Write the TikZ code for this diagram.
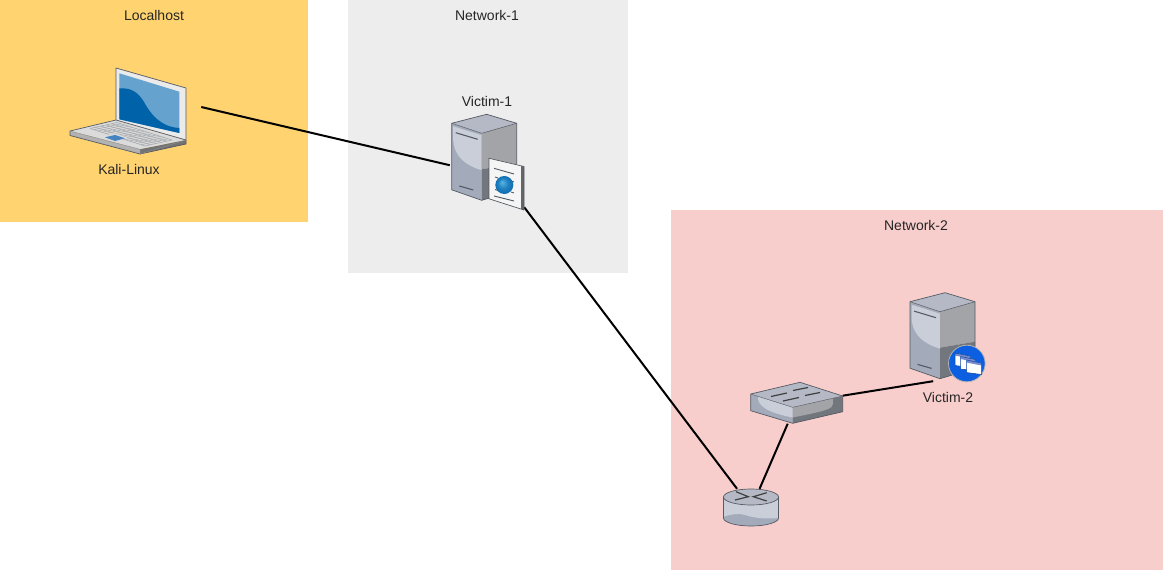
\documentclass[tikz,border=0pt]{standalone}
\usepackage{fontspec}
\setmainfont{Liberation Sans}
\definecolor{orangebg}{HTML}{FFD36F}
\definecolor{greybg}{HTML}{EDEDED}
\definecolor{pinkbg}{HTML}{F8CECC}
\definecolor{edgec}{HTML}{555A63}
\definecolor{facelight}{HTML}{C9CED9}
\definecolor{facemid}{HTML}{A3ABBA}
\definecolor{faceright}{HTML}{A2A4A7}
\definecolor{facedark}{HTML}{72777D}
\definecolor{topface}{HTML}{B4B9C5}
\definecolor{screenblue}{HTML}{65A2CE}
\definecolor{deepblue}{HTML}{0062A8}
\definecolor{bluecirc}{HTML}{0B5FE0}
\definecolor{ballin}{HTML}{57B6E6}
\definecolor{ballout}{HTML}{0A69AE}
\definecolor{keyc}{HTML}{A9ACB0}
\pgfdeclareradialshading{globe}{\pgfpoint{-0.25cm}{0.3cm}}{color(0cm)=(ballin); color(0.5cm)=(ballout!70!ballin); color(1cm)=(ballout)}
\tikzset{
  area/.style={draw=none,inner sep=0pt},
  label text/.style={inner sep=0pt,font=\fontsize{14}{16}\selectfont,text=black!85},
  hit/.style={draw=none,inner sep=0pt,rectangle},
  link/.style={draw=black,line width=2pt},
  outl/.style={draw=edgec,line width=0.7pt,line join=round},
}
% server body, origin at upper-left corner
\newcommand{\serverbody}[2]{%
\begin{scope}[shift={(#1,#2)}]
  \fill[facemid] (0,0) -- (30,10) -- (30,77) -- (0,66.5) -- cycle;
  \fill[facelight] (1.5,3) -- (30,12) -- (30,47) .. controls (14,42) and (3,34) .. (1.5,17) -- cycle;
  \fill[faceright] (30,10) -- (65,0) -- (65,40) -- (30,46) -- cycle;
  \fill[facedark] (30,46) -- (65,40) -- (65,66.5) -- (30,77) -- cycle;
  \fill[topface] (0,0) -- (35,-9) -- (65,0) -- (30,10) -- cycle;
  \draw[outl] (0,0) -- (35,-9) -- (65,0) -- (65,66.5) -- (30,77) -- (0,66.5) -- cycle;
  \draw[edgec,line width=0.5pt] (0,0) -- (30,10) -- (65,0);
  \draw[edgec,line width=1.1pt] (4,9.4) -- (26,16);
  \draw[edgec,line width=1.1pt] (7.6,62.7) -- (21.6,66.7);
\end{scope}}
\begin{document}
\begin{tikzpicture}[x=1pt,y=-1pt]
\useasboundingbox (0,0) rectangle (1163,570);
% areas
\fill[orangebg] (0,0) rectangle (308,222);
\fill[greybg] (347.5,0) rectangle (627.5,272.5);
\fill[pinkbg] (670.5,210) rectangle (1163,570);
\node[label text] (tlocal) at (154,15) {Localhost};
\node[label text] (tnet1) at (487,15) {Network-1};
\node[label text] (tnet2) at (916,225) {Network-2};
\node[label text] (tkali) at (129,169) {Kali-Linux};
\node[label text] (tv1) at (487,101) {Victim-1};
\node[label text] (tv2) at (948,397) {Victim-2};

% hit boxes used as connector ends
\node[hit,minimum width=131pt,minimum height=94pt] (laptop) at (135.5,107) {};
\node[hit,minimum width=74pt,minimum height=94pt] (victimone) at (487,160) {};
\node[hit,minimum width=56pt,minimum height=38pt] (router) at (751,508) {};
\node[hit,minimum width=92pt,minimum height=41pt] (switch) at (796.5,403) {};
\node[hit,minimum width=70pt,minimum height=88pt] (victimtwo) at (945,337) {};

% connectors
\draw[link] (laptop.east) -- (victimone.188);
\draw[link] (victimone.south east) -- (router.126.4);
\draw[link] (router.66.4) -- (switch.-113);
\draw[link] (switch.9.3) -- (victimtwo.-105);

% laptop
\fill[black!8] (116,68) -- (186,88) -- (186,140) -- (116,120) -- cycle;
\fill[screenblue] (119.3,73.3) -- (179.3,91.7) -- (179.3,133) -- (119.3,119.3) -- cycle;
\fill[deepblue] (119.3,88.3) .. controls (133,87.5) and (139,94) .. (144,102)
   .. controls (150,113) and (160,127) .. (179.3,128) -- (179.3,133) -- (119.3,119.3) -- cycle;
\draw[outl] (116,120) -- (116,68) -- (186,88) -- (186,140);
\fill[black!14] (70,131) -- (116,120) -- (186,140) -- (140,149.3) -- cycle;
\fill[black!55] (140,149.3) -- (186,140) -- (186,144) -- (140,154) -- cycle;
\fill[black!30] (70,131) -- (140,149.3) -- (140,154) -- (70,135.5) -- cycle;
\draw[outl] (70,131) -- (116,120) -- (186,140) -- (186,144) -- (140,154) -- (70,135.5) -- cycle;
\draw[black!45,line width=0.4pt] (140,149.3) -- (70,131) (140,149.3) -- (140,154) -- (186,140);
% keyboard A(90,128.5) B(117,122.5) C(172,140) D(145,146)
\begin{scope}[keyc,line width=0.6pt]
  \foreach \t in {0,0.2,...,1.01} {
    \draw ({90+27*\t},{128.5-6*\t}) -- ({145+27*\t},{146-6*\t});
  }
  \foreach \t in {0,0.0714,...,1.01} {
    \draw ({90+55*\t},{128.5+17.5*\t}) -- ({117+55*\t},{122.5+17.5*\t});
  }
\end{scope}
\fill[black!14] (103,135.8) -- (115,133.2) -- (127,137.6) -- (115,141.6) -- cycle;
\fill[cyan!60!blue!85!black!85] (105,137.3) -- (115,135) -- (125,138.3) -- (115,141) -- cycle;

% victim-1 server with document
\serverbody{451.7}{123.3}
\fill[black!4] (489,158.3) -- (523.5,166) -- (523.5,209.5) -- (489,198.3) -- cycle;
\fill[black!60] (521,166) -- (524,166.5) -- (524,210) -- (521,209) -- cycle;
\draw[edgec,line width=0.7pt,line join=round] (489,158.3) -- (524,166.5) -- (524,210) -- (489,198.8) -- cycle;
\draw[edgec,line width=0.9pt] (494,168.3) -- (514,174) (494,196) -- (514,201)
   (495,177) -- (498,178) (511,181) -- (514,182) (495,189.5) -- (498,190.5) (511,192) -- (514,193);
\begin{scope}
  \clip (504.3,185) circle (9);
  \shade[shading=globe] (495.3,176) rectangle (513.3,194);
\end{scope}

% victim-2 server with app badge
\serverbody{910}{301.7}
\fill[bluecirc] (966.8,363.5) circle (18.3);
\draw[black!30,line width=0.8pt] (966.8,363.5) circle (18.3);
\foreach \ox/\oy in {955/353,960.5/356.5,966.5/360}{
  \fill[white] (\ox,\oy) -- (\ox+15,\oy+3) -- (\ox+15,\oy+14.5) -- (\ox,\oy+12.5) -- cycle;
  \fill[cyan!30!blue!55] (\ox,\oy) -- (\ox+15,\oy+3) -- (\ox+15,\oy+5.5) -- (\ox,\oy+2.5) -- cycle;
  \draw[bluecirc!70!black,line width=0.5pt] (\ox,\oy) -- (\ox+15,\oy+3) -- (\ox+15,\oy+14.5) -- (\ox,\oy+12.5) -- cycle;
}

% switch
\fill[facemid] (750.7,394) -- (792.7,407.3) -- (792.7,423.3) -- (750.7,410.7) -- cycle;
\fill[facedark] (792.7,407.3) -- (842.7,396) -- (842.7,411.7) -- (792.7,423.3) -- cycle;
\fill[faceright] (792.7,407.3) -- (833,398.5) -- (833,404) .. controls (833,409) and (825,411) .. (792.7,417.5) -- cycle;
\fill[facelight] (758,396.5) -- (792.7,407.3) -- (792.7,417.5) .. controls (770,413) and (757,407) .. (758,396.5) -- cycle;
\fill[topface] (750.7,394) -- (800,382.3) -- (842.7,396) -- (792.7,407.3) -- cycle;
\draw[outl] (750.7,394) -- (800,382.3) -- (842.7,396) -- (842.7,411.7) -- (792.7,423.3) -- (750.7,410.7) -- cycle;
\draw[edgec,line width=0.4pt] (750.7,394) -- (792.7,407.3) -- (842.7,396);
\draw[black!75,line width=1.2pt] (771,396.5) -- (787,393) (793,390.5) -- (808,387.5) (783,401) -- (799,397.5) (805,395.5) -- (820,392.5);

% router
\fill[facemid] (723.5,497) -- (723.5,518) arc[start angle=180,end angle=0,x radius=27.5,y radius=8] -- (778.5,497) -- cycle;
\fill[facelight] (723.5,497) -- (723.5,516.7) .. controls (732,514) and (740,513) .. (747,515.5) .. controls (755,518.5) and (770,519) .. (778.5,518) -- (778.5,497) -- cycle;
\fill[topface] (751,497) ellipse (27.5 and 8);
\draw[outl] (723.5,497) -- (723.5,518) arc[start angle=180,end angle=0,x radius=27.5,y radius=8] -- (778.5,497);
\draw[outl] (751,497) ellipse (27.5 and 8);
\draw[black!75,line width=1.2pt] (736,491.7) -- (748.3,496.7) -- (735,500) (766.7,492.7) -- (753.3,496.7) -- (766.7,501);
\end{tikzpicture}
\end{document}
